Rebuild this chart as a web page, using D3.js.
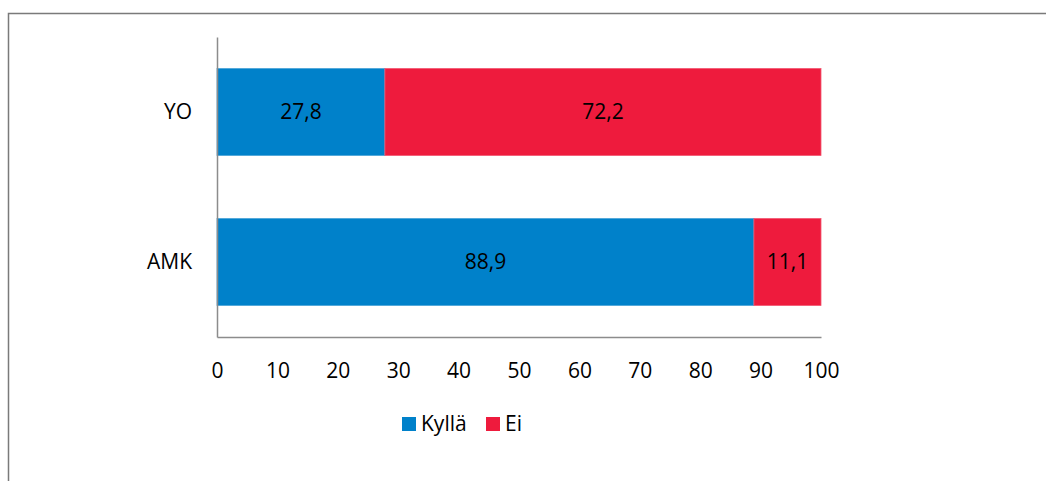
<!DOCTYPE html>
<html>
<head>
<meta charset="utf-8">
<script src="https://cdn.jsdelivr.net/npm/d3@7"></script>
<style>
  body { margin: 0; background: #fff; }
  text { font-family: "Open Sans", sans-serif; fill: #000; }
</style>
</head>
<body>
<div class="chart"></div>
<script>
var categories = ['YO', 'AMK']
var seriesNames = ['Kyllä', 'Ei']
var kylla = [27.8, 88.9]
var ei = [72.2, 11.1]
var ticks = [0, 10, 20, 30, 40, 50, 60, 70, 80, 90, 100]
var colors = ['#0081CA', '#EE1B3D']

var width = 1046
var height = 481
var margin = {top: 37, left: 217, right: 225, bottom: 144}
var fontSize = '21px'

var svg = d3.select('.chart')
  .append('svg')
  .attr('width', width)
  .attr('height', height);

// outer frame
svg.append('rect')
  .attr('x', 8.5)
  .attr('y', 13.5)
  .attr('width', 1100)
  .attr('height', 600)
  .style('fill', 'none')
  .style('stroke', '#7a7a7a')
  .style('stroke-width', 1.5);

var x = d3.scaleLinear()
  .domain([0, 100])
  .range([margin.left, width - margin.right]);

var y = d3.scaleBand()
  .domain(categories)
  .range([margin.top, height - margin.bottom])
  .paddingInner(0.42)
  .paddingOuter(0.21);

var rows = categories.map(function(c, i) {
  return [
    {cat: c, s: 0, x0: 0, x1: kylla[i], v: kylla[i]},
    {cat: c, s: 1, x0: kylla[i], x1: kylla[i] + ei[i], v: ei[i]}
  ]
});
var segs = d3.merge(rows)

svg.selectAll('rect.bar')
  .data(segs)
  .enter().append('rect')
  .attr('class', 'bar')
  .attr('x', function(d) { return x(d.x0) })
  .attr('y', function(d) { return y(d.cat) })
  .attr('width', function(d) { return x(d.x1) - x(d.x0) })
  .attr('height', y.bandwidth())
  .style('fill', function(d) { return colors[d.s] })
  .style('stroke', function(d) { return d.s ? '#f25872' : '#4aa3d8' })
  .style('stroke-width', 0.8);

svg.selectAll('text.val')
  .data(segs)
  .enter().append('text')
  .attr('class', 'val')
  .attr('x', function(d) { return (x(d.x0) + x(d.x1)) / 2 })
  .attr('y', function(d) { return y(d.cat) + y.bandwidth() / 2 })
  .attr('dy', '0.35em')
  .attr('text-anchor', 'middle')
  .style('font-size', fontSize)
  .text(function(d) { return String(d.v).replace('.', ',') });

// axes
var xAxis = d3.axisBottom(x)
  .tickValues(ticks)
  .tickSize(0)
  .tickPadding(26);

var gx = svg.append('g')
  .attr('transform', 'translate(0,' + (height - margin.bottom) + ')')
  .call(xAxis);
gx.select('.domain').style('stroke', '#8c8c8c').style('stroke-width', 1.5);
gx.selectAll('text').style('font-size', fontSize).style('font-family', '"Open Sans", sans-serif');

var yAxis = d3.axisLeft(y)
  .tickSize(0)
  .tickPadding(25);

var gy = svg.append('g')
  .attr('transform', 'translate(' + margin.left + ',0)')
  .call(yAxis);
gy.select('.domain').style('stroke', '#8c8c8c').style('stroke-width', 1.5);
gy.selectAll('text').style('font-size', fontSize).style('font-family', '"Open Sans", sans-serif');

// legend
var legendX = [402, 486]
var legend = svg.selectAll('g.legend')
  .data(seriesNames)
  .enter().append('g')
  .attr('class', 'legend')
  .attr('transform', function(d, i) { return 'translate(' + legendX[i] + ',417)' });

legend.append('rect')
  .attr('width', 14)
  .attr('height', 14)
  .style('fill', function(d, i) { return colors[i] });

legend.append('text')
  .attr('x', 19)
  .attr('y', 7)
  .attr('dy', '0.35em')
  .style('font-size', fontSize)
  .text(function(d) { return d });
</script>
</body>
</html>
